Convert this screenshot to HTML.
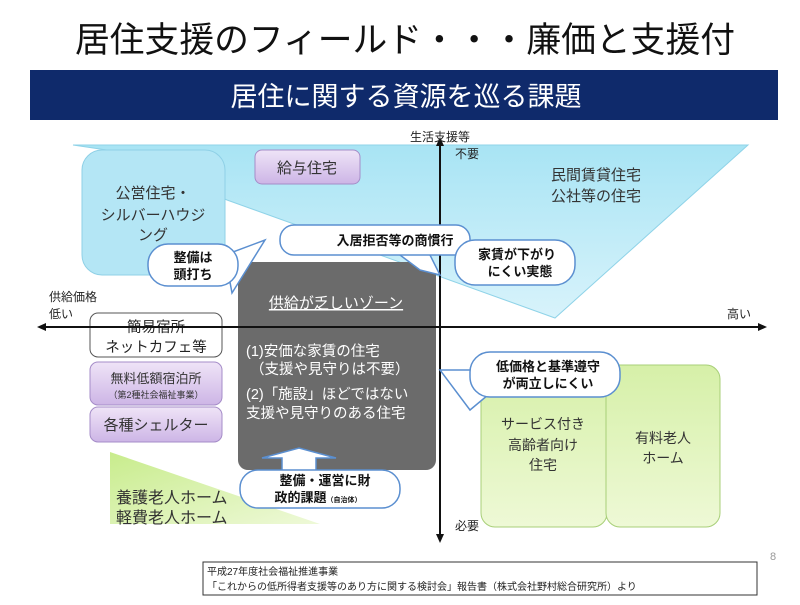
<!DOCTYPE html>
<html><head><meta charset="utf-8"><style>
body{margin:0;width:800px;height:600px;overflow:hidden;background:#fff}
svg text{font-family:"Liberation Sans","Noto Sans CJK JP",sans-serif}
</style></head><body>
<svg width="800" height="600" viewBox="0 0 800 600" xmlns="http://www.w3.org/2000/svg">
<defs>
<linearGradient id="lb" x1="0" y1="0" x2="0" y2="1"><stop offset="0" stop-color="#a8e4f4"/><stop offset="1" stop-color="#d8f3fb"/></linearGradient>
<linearGradient id="gb" x1="0" y1="0" x2="0" y2="1"><stop offset="0" stop-color="#d6f0a8"/><stop offset="1" stop-color="#eef9d6"/></linearGradient>
<linearGradient id="pb" x1="0" y1="0" x2="0" y2="1"><stop offset="0" stop-color="#efe4f7"/><stop offset="1" stop-color="#cdb5e6"/></linearGradient>
<linearGradient id="gt" x1="0" y1="0" x2="1" y2="1"><stop offset="0" stop-color="#c8ec8c"/><stop offset="1" stop-color="#eef9d8"/></linearGradient>
</defs>
<text x="405" y="52" font-size="35" text-anchor="middle" fill="#111" textLength="660" lengthAdjust="spacingAndGlyphs">居住支援のフィールド・・・廉価と支援付</text>
<rect x="30" y="70" width="748" height="50" fill="#0f2a6b"/>
<text x="406" y="106" font-size="27" text-anchor="middle" fill="#fff">居住に関する資源を巡る課題</text>

<polygon points="73,145 748,145 555,318 227,200 120,152" fill="url(#lb)" stroke="#8fd3e8"/>
<rect x="82" y="150" width="143" height="125" rx="20" fill="#b4e6f5" stroke="#8fd0e6"/>
<text x="153" y="198" font-size="15" text-anchor="middle" fill="#333">公営住宅・</text>
<text x="153" y="220" font-size="15" text-anchor="middle" fill="#333">シルバーハウジ</text>
<text x="153" y="240" font-size="15" text-anchor="middle" fill="#333">ング</text>
<rect x="255" y="150" width="105" height="34" rx="7" fill="url(#pb)" stroke="#a58cc8"/>
<text x="307" y="173" font-size="15" text-anchor="middle" fill="#333">給与住宅</text>
<text x="596" y="180" font-size="15" text-anchor="middle" fill="#333">民間賃貸住宅</text>
<text x="596" y="201" font-size="15" text-anchor="middle" fill="#333">公社等の住宅</text>

<rect x="238" y="262" width="198" height="208" rx="10" fill="#6b6b6b"/>
<text x="336" y="308" font-size="15" text-anchor="middle" fill="#fff" text-decoration="underline">供給が乏しいゾーン</text>
<text x="246" y="356" font-size="14.5" fill="#fff">(1)安価な家賃の住宅</text>
<text x="250" y="374" font-size="14.5" fill="#fff">（支援や見守りは不要）</text>
<text x="246" y="399" font-size="14.5" fill="#fff">(2)「施設」ほどではない</text>
<text x="246" y="418" font-size="14.5" fill="#fff">支援や見守りのある住宅</text>

<polygon points="110,452 110,524 320,524" fill="url(#gt)"/>
<text x="116" y="503" font-size="16" fill="#333">養護老人ホーム</text>
<text x="116" y="523" font-size="16" fill="#333">軽費老人ホーム</text>

<rect x="90" y="313" width="132" height="44" rx="8" fill="#fff" stroke="#555"/>
<text x="156" y="332" font-size="14.5" text-anchor="middle" fill="#222">簡易宿所</text>
<text x="156" y="352" font-size="14.5" text-anchor="middle" fill="#222">ネットカフェ等</text>
<rect x="90" y="362" width="132" height="43" rx="8" fill="url(#pb)" stroke="#a58cc8"/>
<text x="156" y="383" font-size="13" text-anchor="middle" fill="#333">無料低額宿泊所</text>
<text x="156" y="398" font-size="9" text-anchor="middle" fill="#333">（第2種社会福祉事業）</text>
<rect x="90" y="407" width="132" height="35" rx="8" fill="url(#pb)" stroke="#a58cc8"/>
<text x="156" y="430" font-size="15" text-anchor="middle" fill="#333">各種シェルター</text>

<rect x="481" y="365" width="126" height="162" rx="14" fill="url(#gb)" stroke="#a8cf78"/>
<rect x="606" y="365" width="114" height="162" rx="14" fill="url(#gb)" stroke="#a8cf78"/>
<text x="543" y="429" font-size="14" text-anchor="middle" fill="#333">サービス付き</text>
<text x="543" y="450" font-size="14" text-anchor="middle" fill="#333">高齢者向け</text>
<text x="543" y="470" font-size="14" text-anchor="middle" fill="#333">住宅</text>
<text x="663" y="443" font-size="14" text-anchor="middle" fill="#333">有料老人</text>
<text x="663" y="463" font-size="14" text-anchor="middle" fill="#333">ホーム</text>

<!-- axes -->
<line x1="440" y1="142" x2="440" y2="538" stroke="#111" stroke-width="2"/>
<polygon points="440,137 436,146 444,146" fill="#111"/>
<polygon points="440,543 436,534 444,534" fill="#111"/>
<line x1="42" y1="327" x2="762" y2="327" stroke="#111" stroke-width="2"/>
<polygon points="37,327 46,323 46,331" fill="#111"/>
<polygon points="767,327 758,323 758,331" fill="#111"/>
<text x="410" y="141" font-size="12" fill="#222">生活支援等</text>
<text x="455" y="158" font-size="12" fill="#222">不要</text>
<text x="455" y="530" font-size="12" fill="#222">必要</text>
<text x="49" y="301" font-size="12" fill="#222">供給価格</text>
<text x="49" y="318" font-size="12" fill="#222">低い</text>
<text x="727" y="318" font-size="12" fill="#222">高い</text>

<!-- clouds -->
<g fill="#fff" stroke="#5b8fd0" stroke-width="1.5">
<polygon points="262,458 299,448 336,458 316,458 316,472 282,472 282,458"/>
<polygon points="225,255 265,240 232,293"/>
<rect x="148" y="244" width="90" height="42" rx="20"/>
<polygon points="380,240 420,235 440,275 420,270"/>
<rect x="280" y="225" width="190" height="30" rx="14"/>
<rect x="455" y="240" width="120" height="45" rx="20"/>
<polygon points="490,370 440,370 470,410 500,385"/>
<rect x="470" y="352" width="150" height="45" rx="20"/>
<rect x="240" y="470" width="160" height="38" rx="18"/>
</g>
<g font-weight="bold" fill="#111" text-anchor="middle">
<text x="193" y="262" font-size="13">整備は</text>
<text x="193" y="279" font-size="13">頭打ち</text>
<text x="395" y="245" font-size="13">入居拒否等の商慣行</text>
<text x="517" y="259" font-size="13">家賃が下がり</text>
<text x="520" y="276" font-size="13">にくい実態</text>
<text x="548" y="371" font-size="13">低価格と基準遵守</text>
<text x="548" y="388" font-size="13">が両立しにくい</text>
<text x="325" y="485" font-size="13">整備・運営に財</text>
<text x="318" y="502" font-size="13">政的課題<tspan font-size="7">（自治体）</tspan></text>
</g>

<rect x="203" y="562" width="554" height="33" fill="#fff" stroke="#333"/>
<text x="207" y="575" font-size="10" fill="#222">平成27年度社会福祉推進事業</text>
<text x="207" y="590" font-size="10" fill="#222">「これからの低所得者支援等のあり方に関する検討会」報告書（株式会社野村総合研究所）より</text>
<text x="770" y="560" font-size="11" fill="#999">8</text>
</svg>
</body></html>
